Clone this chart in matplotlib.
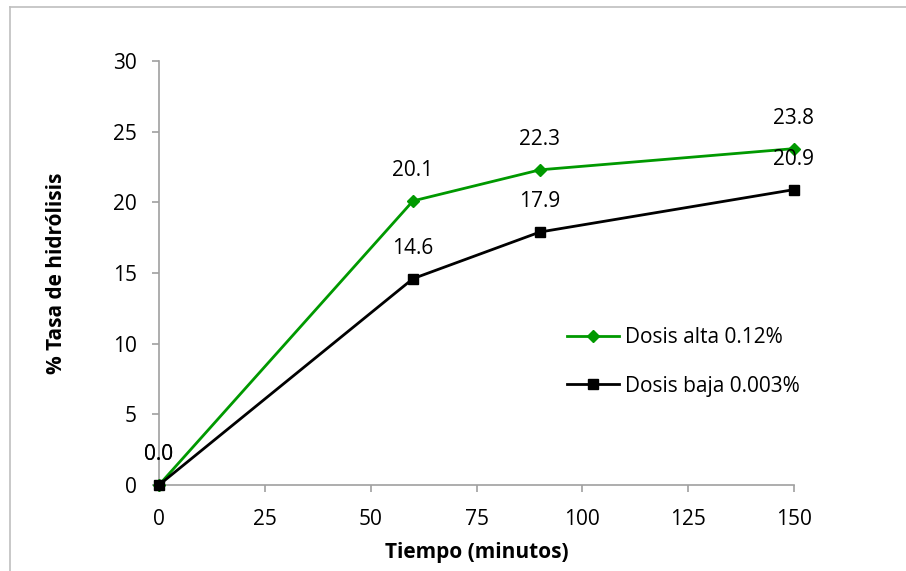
import matplotlib
matplotlib.use('Agg')
import matplotlib.pyplot as plt
from matplotlib.lines import Line2D

plt.rcParams['font.family'] = ['Open Sans', 'DejaVu Sans']

# data
tiempo = [0, 60, 90, 150]
dosis_alta = [0.0, 20.1, 22.3, 23.8]
dosis_baja = [0.0, 14.6, 17.9, 20.9]
x_ticks = [0, 25, 50, 75, 100, 125, 150]
y_ticks = [0, 5, 10, 15, 20, 25, 30]

green = '#009900'
gray = '#a0a0a0'

fig = plt.figure(figsize=(9.06, 5.71), dpi=100)
ax = fig.add_axes([159/906, 1-485/571, (794-159)/906, (485-61)/571])

# outer frame (only left and top visible)
fig.add_artist(Line2D([10/906, 10/906], [0, 1-7/571], color='#bfbfbf', lw=1.2, transform=fig.transFigure))
fig.add_artist(Line2D([10/906, 1], [1-7/571, 1-7/571], color='#bfbfbf', lw=1.2, transform=fig.transFigure))

ax.plot(tiempo, dosis_alta, color=green, lw=2, marker='D', ms=6, label='Dosis alta 0.12%', clip_on=False, zorder=3)
ax.plot(tiempo, dosis_baja, color='black', lw=2, marker='s', ms=6.5, label='Dosis baja 0.003%', clip_on=False, zorder=3)

for xv, yv in zip(tiempo, dosis_alta):
    ax.annotate('{:.1f}'.format(yv), (xv, yv), xytext=(0, 22), textcoords='offset points',
                ha='center', va='center', fontsize=15)
for xv, yv in zip(tiempo, dosis_baja):
    ax.annotate('{:.1f}'.format(yv), (xv, yv), xytext=(0, 22), textcoords='offset points',
                ha='center', va='center', fontsize=15)

ax.set_xlim(0, 150)
ax.set_ylim(0, 30)
ax.set_xticks(x_ticks)
ax.set_yticks(y_ticks)
ax.tick_params(labelsize=15, color=gray, length=5, width=1.2)
ax.tick_params(axis='y', pad=11)
ax.tick_params(axis='x', pad=12)
for s in ['top', 'right']:
    ax.spines[s].set_visible(False)
for s in ['left', 'bottom']:
    ax.spines[s].set_color(gray)
    ax.spines[s].set_linewidth(1.2)

ax.set_xlabel('Tiempo (minutos)', fontsize=15, fontweight='bold', labelpad=9)
ax.set_ylabel('% Tasa de hidrólisis', fontsize=15, fontweight='bold', labelpad=33)

ax.legend(loc='center left', bbox_to_anchor=(0.613, 0.29), frameon=False, fontsize=15,
          handlelength=2.5, labelspacing=1.3, handletextpad=0.3)

fig.savefig('out.png', dpi=100)
